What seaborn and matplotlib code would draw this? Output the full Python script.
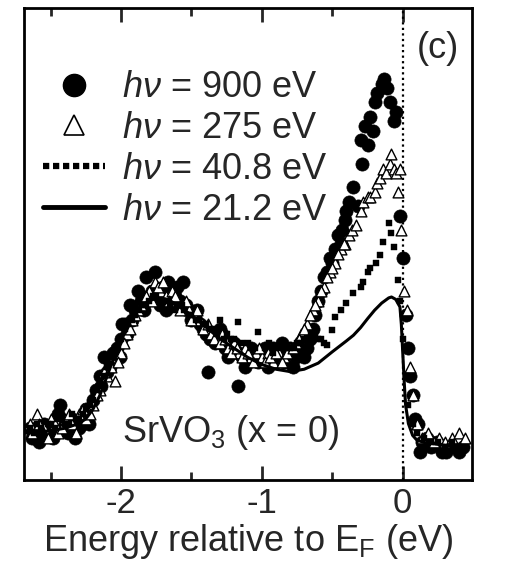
import numpy as np
import pandas as pd
import seaborn as sns
import matplotlib.pyplot as plt
from matplotlib.lines import Line2D

# Photoemission spectra of SrVO3 (x = 0), intensity in arbitrary units
e_900 = [-2.65, -2.6, -2.55, -2.5, -2.45, -2.43, -2.4, -2.35, -2.3, -2.25,
         -2.2, -2.15, -2.12, -2.08, -2.03, -2.0, -1.97, -1.94, -1.9, -1.86,
         -1.82, -1.78, -1.74, -1.7, -1.67, -1.63, -1.6, -1.56, -1.52, -1.48,
         -1.44, -1.4, -1.38, -1.35, -1.3, -1.26, -1.22, -1.17, -1.14, -1.1,
         -1.05, -1.0, -0.96, -0.92, -0.88, -0.84, -0.8, -0.76, -0.72, -0.68,
         -0.64, -0.6, -0.56, -0.52, -0.48, -0.44, -0.41, -0.38, -0.35, -0.32,
         -0.3, -0.29, -0.27, -0.25, -0.23, -0.21, -0.2, -0.18, -0.15, -0.13,
         -0.11, -0.09, -0.06, -0.045, -0.02, 0.0, 0.02, 0.035, 0.05, 0.07,
         0.09, 0.11, 0.12, 0.14, 0.17, 0.2, 0.24, 0.28, 0.31, 0.35, 0.4, 0.43]
i_900 = [11, 10, 12, 11, 14, 16, 12, 13, 11, 15,
         17, 22, 26, 24, 28, 30, 33, 37, 36, 38,
         43, 40, 38, 41, 42, 37, 41, 42, 36, 35,
         33, 31, 23, 30, 32, 28, 27, 20, 26, 25,
         27, 26, 24, 28, 27, 25, 28, 26, 29, 28,
         32, 38, 43, 47, 49, 50, 55, 59, 62, 58,
         72, 67, 75, 71, 77, 74, 80, 82, 84, 85,
         83, 80, 76, 78, 56, 47, 35, 28, 22, 18,
         13, 12, 6, 8, 9, 7, 8, 6, 6, 7, 6, 7]
# second sweep of the 900 eV points (valence-band region)
e_900b = [-2.63, -2.58, -2.53, -2.48, -2.38, -2.33, -2.28, -2.23, -2.18, -2.14,
          -2.1, -2.06, -2.01, -1.99, -1.96, -1.92, -1.88, -1.84, -1.8, -1.76,
          -1.72, -1.68, -1.65, -1.62, -1.58, -1.54, -1.5, -1.46, -1.42, -1.37,
          -1.33, -1.28, -1.24, -1.2, -1.16, -1.12, -1.08, -1.03, -0.98, -0.94,
          -0.9, -0.86, -0.82, -0.78, -0.74, -0.7, -0.66, -0.62, -0.58, -0.54,
          -0.5, -0.46, -0.43, -0.4]
i_900b = [9, 8, 10, 9, 10, 9, 12, 12, 19, 20,
          23, 27, 26, 33, 31, 34, 40, 36, 39, 44,
          37, 36, 40, 39, 38, 37, 34, 36, 32, 30,
          29, 31, 26, 29, 27, 24, 28, 25, 28, 26,
          25, 29, 27, 24, 27, 26, 30, 35, 40, 44,
          46, 52, 53, 57]

e_275 = [-2.65, -2.6, -2.55, -2.5, -2.45, -2.4, -2.35, -2.3, -2.25, -2.2,
         -2.15, -2.1, -2.04, -2.0, -1.96, -1.92, -1.88, -1.84, -1.8, -1.76,
         -1.72, -1.68, -1.64, -1.6, -1.56, -1.52, -1.48, -1.44, -1.4, -1.36,
         -1.32, -1.28, -1.24, -1.2, -1.16, -1.12, -1.08, -1.04, -1.0, -0.96,
         -0.92, -0.88, -0.84, -0.8, -0.76, -0.72, -0.68, -0.64, -0.6, -0.56,
         -0.52, -0.48, -0.44, -0.41, -0.38, -0.36, -0.33, -0.3, -0.28, -0.25,
         -0.23, -0.2, -0.18, -0.16, -0.14, -0.12, -0.09, -0.08, -0.06, -0.045,
         -0.035, -0.02, -0.01, 0.01, 0.03, 0.05, 0.07, 0.1, 0.14, 0.18,
         0.22, 0.26, 0.3, 0.35, 0.4, 0.44]
i_275 = [12, 14, 11, 13, 10, 13, 12, 14, 13, 16,
         19, 22, 21, 27, 31, 34, 36, 38, 40, 42,
         40, 39, 40, 38, 37, 36, 35, 34, 32, 31,
         30, 31, 28, 29, 27, 28, 26, 27, 26, 27,
         25, 27, 26, 28, 29, 31, 33, 36, 38, 41,
         44, 46, 49, 50, 52, 53, 54, 57, 59, 60,
         60, 61, 63, 64, 66, 65, 67, 69, 66, 65,
         61, 66, 53, 40, 36, 24, 18, 12, 9, 10,
         8, 9, 8, 9, 10, 9]
e_275b = [-2.63, -2.58, -2.52, -2.47, -2.42, -2.37, -2.32, -2.27, -2.22, -2.17,
          -2.12, -2.07, -2.02, -1.98, -1.94, -1.9, -1.86, -1.82, -1.78, -1.74,
          -1.7, -1.66, -1.62, -1.58, -1.54, -1.5, -1.46, -1.42, -1.38, -1.34,
          -1.3, -1.26, -1.22, -1.18, -1.14, -1.1, -1.06, -1.02, -0.98, -0.94,
          -0.9, -0.86, -0.82, -0.78, -0.74, -0.7, -0.66, -0.62, -0.58, -0.54,
          -0.5, -0.46, -0.42]
i_275b = [10, 12, 9, 12, 11, 14, 10, 15, 14, 18,
          23, 24, 25, 29, 32, 35, 37, 39, 38, 41,
          42, 38, 39, 36, 38, 34, 36, 32, 33, 30,
          29, 30, 27, 28, 26, 27, 25, 28, 25, 26,
          27, 25, 27, 28, 30, 32, 35, 37, 40, 43,
          45, 48, 50]

e_408 = [-2.65, -2.6, -2.55, -2.5, -2.45, -2.4, -2.35, -2.3, -2.25, -2.2,
         -2.15, -2.1, -2.05, -2.0, -1.95, -1.9, -1.85, -1.8, -1.75, -1.7,
         -1.65, -1.6, -1.55, -1.5, -1.45, -1.4, -1.35, -1.3, -1.25, -1.2,
         -1.17, -1.1, -1.05, -1.03, -0.95, -0.9, -0.85, -0.8, -0.75, -0.7,
         -0.65, -0.6, -0.56, -0.54, -0.5, -0.48, -0.44, -0.4, -0.35, -0.3,
         -0.28, -0.25, -0.23, -0.19, -0.16, -0.14, -0.1, -0.08, -0.06, -0.035,
         -0.02, 0.0, 0.02, 0.04, 0.07, 0.1, 0.15, 0.2, 0.25, 0.3, 0.35, 0.4]
i_408 = [11, 12, 10, 12, 13, 12, 14, 13, 15, 17,
         20, 24, 27, 30, 33, 35, 37, 38, 39, 38,
         37, 37, 36, 35, 34, 33, 32, 34, 31, 30,
         33.5, 29, 28, 31.4, 29, 28, 29, 28, 29, 30,
         31, 30, 29, 28.6, 31.8, 34.5, 36, 37.5, 39.6, 41,
         42, 44, 45, 46, 47.7, 50.4, 54.4, 52.3, 49.4, 42.4,
         38, 30, 22, 16, 12, 10, 9, 8, 8, 7, 8, 7]
e_408b = [-2.62, -2.57, -2.52, -2.47, -2.42, -2.37, -2.32, -2.27, -2.22, -2.17,
          -2.12, -2.07, -2.02, -1.97, -1.92, -1.87, -1.82, -1.77, -1.72, -1.67,
          -1.62, -1.57, -1.52, -1.47, -1.42, -1.37, -1.32, -1.27, -1.22, -1.14,
          -1.08, -0.98, -0.92, -0.87, -0.82, -0.77, -0.72, -0.67, -0.62, -0.58]
i_408b = [10, 11, 12, 11, 13, 12, 13, 14, 16, 19,
          22, 26, 28, 32, 34, 36, 37, 39, 38, 38,
          36, 37, 35, 34, 33, 32, 31, 30, 30, 29,
          28, 28, 27, 28, 28, 28, 29, 30, 31, 30]

e_212 = [-2.68, -2.6, -2.5, -2.4, -2.3, -2.25, -2.2, -2.15, -2.1, -2.05,
         -2.0, -1.95, -1.9, -1.85, -1.8, -1.75, -1.7, -1.65, -1.6, -1.5,
         -1.4, -1.3, -1.2, -1.1, -1.0, -0.9, -0.8, -0.7, -0.6, -0.5,
         -0.4, -0.35, -0.3, -0.25, -0.2, -0.15, -0.1, -0.08, -0.05, -0.02,
         -0.01, 0.0, 0.01, 0.02, 0.04, 0.07, 0.1, 0.15, 0.25, 0.35, 0.45]
i_212 = [10, 10, 10.5, 11, 12, 13, 15, 18, 22, 26,
         30, 33, 35.5, 37, 38, 38.5, 38.5, 38, 37, 35,
         32.5, 30, 28, 26, 24.5, 23.5, 23, 23.5, 24.8, 27.2,
         29.5, 30.7, 32.3, 34.2, 36, 37.5, 38.6, 38.8, 38.3, 36.7,
         33, 27, 21, 16, 12, 9.5, 8.5, 8, 7.6, 7.2, 7]

labels = [r"$h\nu$ = 900 eV", r"$h\nu$ = 275 eV",
          r"$h\nu$ = 40.8 eV", r"$h\nu$ = 21.2 eV"]
x_ticks = [-2, -1, 0]
x_minor = [-2.5, -1.5, -0.5]

sns.set_style("ticks")
plt.rcParams['font.family'] = ['Liberation Sans', 'DejaVu Sans']
plt.rcParams['mathtext.fontset'] = 'custom'
plt.rcParams['mathtext.rm'] = 'Liberation Sans'
plt.rcParams['mathtext.it'] = 'Liberation Sans:italic'

df900 = pd.DataFrame({'E': e_900 + e_900b, 'I': i_900 + i_900b})
df275 = pd.DataFrame({'E': e_275 + e_275b, 'I': i_275 + i_275b})
df408 = pd.DataFrame({'E': e_408 + e_408b, 'I': i_408 + i_408b})
df212 = pd.DataFrame({'E': e_212, 'I': i_212})

fig = plt.figure(figsize=(5.19, 5.71), dpi=100)
ax = fig.add_axes([0.046, 0.159, 0.863, 0.827])

sns.scatterplot(data=df900, x='E', y='I', ax=ax, marker='o', s=90,
                color='black', edgecolor='black', linewidth=0.5, zorder=3)
sns.scatterplot(data=df275, x='E', y='I', ax=ax, marker='^', s=60,
                facecolor='white', edgecolor='black', linewidth=1.0, zorder=4)
sns.scatterplot(data=df408, x='E', y='I', ax=ax, marker='s', s=14,
                color='black', edgecolor='black', linewidth=0.3, zorder=5)
sns.lineplot(data=df212, x='E', y='I', ax=ax, color='black', linewidth=2.2,
             estimator=None, sort=True, zorder=6)

# Fermi level
ax.axvline(0, color='black', linestyle=(0, (1, 1.5)), linewidth=1.6, zorder=2)

ax.set_xlim(-2.69, 0.49)
ax.set_ylim(0, 100)
ax.set_xticks(x_ticks)
ax.set_xticklabels(['-2', '-1', '0'])
ax.set_xticks(x_minor, minor=True)
ax.set_yticks([])
ax.tick_params(axis='x', which='major', direction='in', length=10, width=2,
               top=True, labelsize=25, pad=5)
ax.tick_params(axis='x', which='minor', direction='in', length=6, width=2,
               top=True)
for side in ['left', 'right', 'top', 'bottom']:
    ax.spines[side].set_visible(True)
    ax.spines[side].set_linewidth(2.0)
    ax.spines[side].set_color('black')
ax.set_xlabel(r"Energy relative to E$_\mathrm{F}$ (eV)", fontsize=26, labelpad=1)
ax.set_ylabel('')

handles = [
    Line2D([], [], marker='o', color='black', linestyle='none', markersize=16),
    Line2D([], [], marker='^', markerfacecolor='white', markeredgecolor='black',
           markeredgewidth=1.2, linestyle='none', markersize=14),
    Line2D([], [], color='black', linestyle=(0, (1, 0.6)), linewidth=4.5),
    Line2D([], [], color='black', linestyle='-', linewidth=3.5),
]
ax.legend(handles, labels, loc='upper left', bbox_to_anchor=(0.042, 0.868),
          frameon=False, fontsize=26, labelspacing=0.16, handlelength=1.72,
          handletextpad=0.47, borderpad=0, borderaxespad=0)

ax.text(0.924, 0.915, '(c)', transform=ax.transAxes, fontsize=26,
        ha='center', va='center')
ax.text(0.219, 0.08, r"SrVO$_3$ (x = 0)", transform=ax.transAxes, fontsize=26,
        ha='left', va='baseline')

fig.savefig('out.png', dpi=100)
